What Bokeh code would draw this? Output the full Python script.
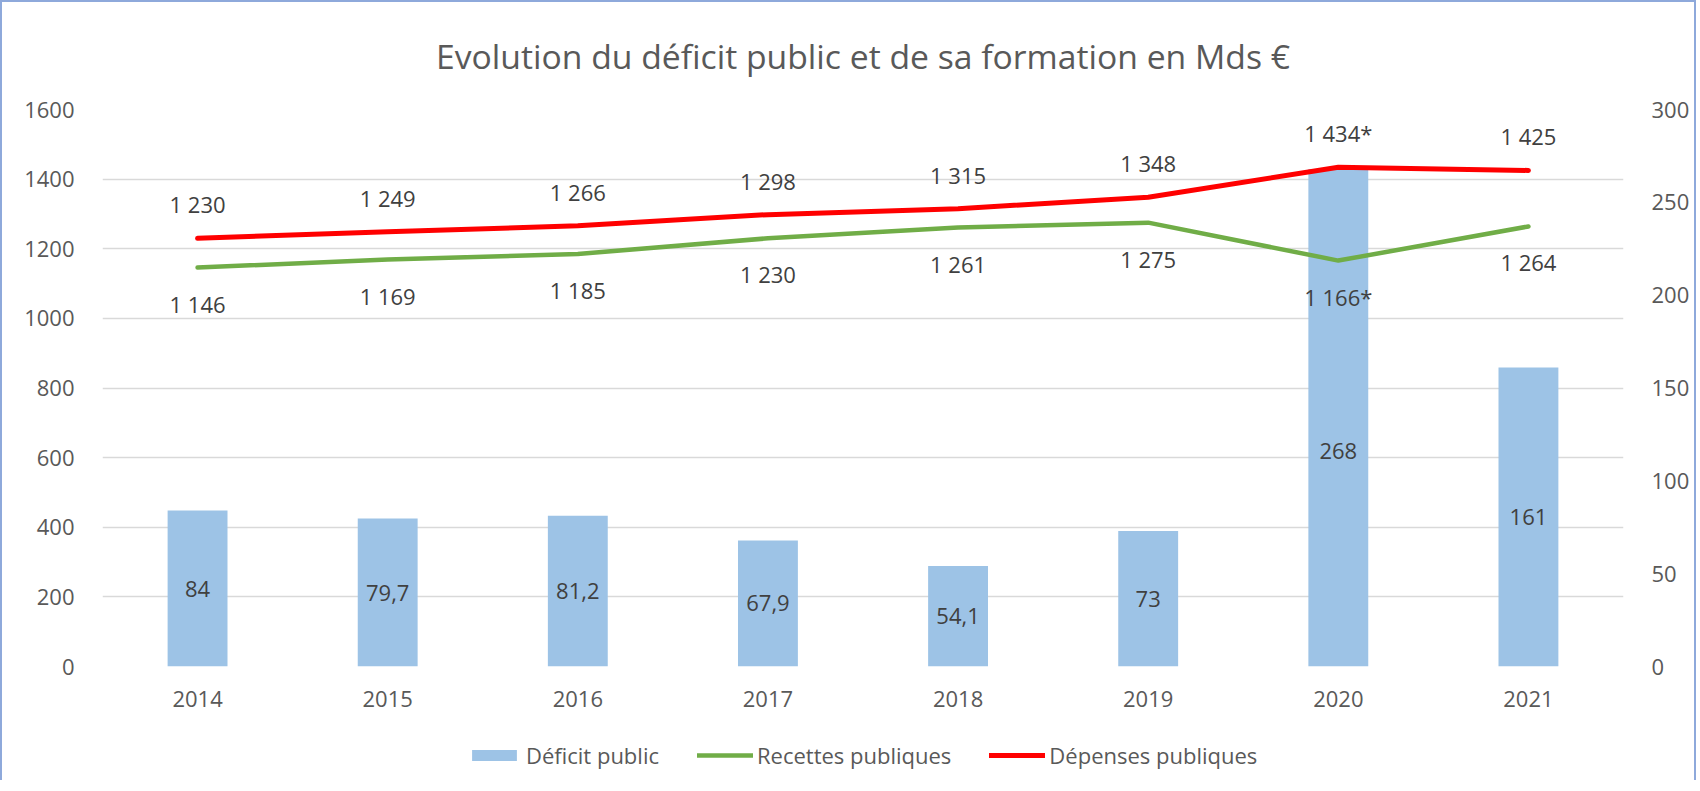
from bokeh.plotting import figure
from bokeh.layouts import column
from bokeh.models import (Range1d, LinearAxis, FixedTicker, Legend, LegendItem,
                          FactorRange, ColumnDataSource)
from bokeh.core.properties import value
from bokeh.embed import file_html
from bokeh.resources import INLINE

# ---- data ----
years = ["2014", "2015", "2016", "2017", "2018", "2019", "2020", "2021"]
deficit = [84, 79.7, 81.2, 67.9, 54.1, 73, 268, 161]
recettes = [1146, 1169, 1185, 1230, 1261, 1275, 1166, 1264]
depenses = [1230, 1249, 1266, 1298, 1315, 1348, 1434, 1425]
provisional = ["2020"]
left_ticks = [0, 200, 400, 600, 800, 1000, 1200, 1400, 1600]
right_ticks = [0, 50, 100, 150, 200, 250, 300]
series_names = ["Déficit public", "Recettes publiques", "Dépenses publiques"]

TITLE = "Evolution du déficit public et de sa formation en Mds €"
FONT = "Open Sans"
GREY = "#595959"
DARK = "#404040"
FS = "22px"
BAR_C, REC_C, DEP_C = "#9DC3E6", "#70AD47", "#FF0000"
NAN = float("nan")


def fmt_thousands(v, y):
    s = f"{int(round(v)):,}".replace(",", " ")
    return s + ("*" if y in provisional else "")


def fmt_dec(v):
    if float(v).is_integer():
        return str(int(v))
    return f"{v:.1f}".replace(".", ",")


dep_labels = [fmt_thousands(v, y) for v, y in zip(depenses, years)]
rec_labels = [fmt_thousands(v, y) for v, y in zip(recettes, years)]
def_labels = [fmt_dec(v) for v in deficit]

p = figure(
    x_range=FactorRange(*years),
    y_range=Range1d(0, 1600),
    frame_width=1521, frame_height=557,
    min_border_left=100, min_border_right=71,
    min_border_top=107, min_border_bottom=62,
    output_backend="svg", toolbar_location=None,
    title=TITLE,
)
p.extra_y_ranges = {"right": Range1d(0, 300)}

p.title.align = "center"
p.title.vertical_align = "top"
p.title.text_font = FONT
p.title.text_font_size = "33.7px"
p.title.text_font_style = "normal"
p.title.text_color = GREY
p.title.standoff = 58

p.outline_line_color = None
p.background_fill_color = "white"
p.border_fill_color = "white"

# grid
p.xgrid.grid_line_color = None
p.ygrid.grid_line_color = "#D9D9D9"
p.ygrid.grid_line_width = 1.5
p.ygrid.ticker = FixedTicker(ticks=left_ticks)

# axes
p.yaxis.ticker = FixedTicker(ticks=left_ticks)
for ax in [p.xaxis[0], p.yaxis[0]]:
    ax.axis_line_color = None
    ax.major_tick_line_color = None
    ax.minor_tick_line_color = None
    ax.major_label_text_font = FONT
    ax.major_label_text_font_size = FS
    ax.major_label_text_color = GREY
p.yaxis.major_label_standoff = 22
p.xaxis.major_label_standoff = 18

raxis = LinearAxis(y_range_name="right", ticker=FixedTicker(ticks=right_ticks))
raxis.axis_line_color = None
raxis.major_tick_line_color = None
raxis.minor_tick_line_color = None
raxis.major_label_text_font = FONT
raxis.major_label_text_font_size = FS
raxis.major_label_text_color = GREY
raxis.major_label_standoff = 22
p.add_layout(raxis, "right")

# bars (right axis)
bar_src = ColumnDataSource(dict(
    x=years, top=deficit, mid=[v / 2 for v in deficit], lab=def_labels,
    yoff=[33 if y == "2020" else 0 for y in years]))
p.vbar(x="x", top="top", width=0.315, source=bar_src, y_range_name="right",
       fill_color=BAR_C, line_color=None)

# lines (left axis)
p.line(years, recettes, line_color=REC_C, line_width=4.5,
       line_join="round", line_cap="round")
p.line(years, depenses, line_color=DEP_C, line_width=5,
       line_join="round", line_cap="round")

# data labels
p.text(x="x", y="mid", text="lab", source=bar_src, y_range_name="right",
       y_offset="yoff", text_align="center", text_baseline="middle",
       text_font=value(FONT), text_font_size=FS, text_color=DARK)
p.text(x=years, y=depenses, text=dep_labels, y_offset=-34,
       text_align="center", text_baseline="middle",
       text_font=value(FONT), text_font_size=FS, text_color=DARK)
p.text(x=years, y=recettes, text=rec_labels, y_offset=36,
       text_align="center", text_baseline="middle",
       text_font=value(FONT), text_font_size=FS, text_color=DARK)

# ---- legend strip (separate plot below the chart) ----
lg = figure(width=1692, height=52, x_range=Range1d(0, 1), y_range=Range1d(0, 1),
            x_axis_type=None, y_axis_type=None,
            min_border_left=0, min_border_right=0, min_border_top=0,
            min_border_bottom=0, output_backend="svg", toolbar_location=None)
lg.outline_line_color = None
lg.background_fill_color = "white"
lg.border_fill_color = "white"
# legend-only renderers (no visible data)
r_bar = lg.vbar(x=[NAN], top=[NAN], width=0.3, fill_color=BAR_C, line_color=None)
r_rec = lg.line(x=[NAN], y=[NAN], line_color=REC_C, line_width=4.5, line_cap="round")
r_dep = lg.line(x=[NAN], y=[NAN], line_color=DEP_C, line_width=5, line_cap="round")

legend = Legend(items=[
    LegendItem(label=series_names[0], renderers=[r_bar]),
    LegendItem(label=series_names[1], renderers=[r_rec]),
    LegendItem(label=series_names[2], renderers=[r_dep]),
], orientation="horizontal", location=(364, 10))
legend.border_line_color = None
legend.background_fill_alpha = 0
legend.label_text_font = FONT
legend.label_text_font_size = FS
legend.label_text_color = GREY
legend.glyph_width = 56
legend.glyph_height = 14
legend.label_standoff = 4
legend.spacing = 38
legend.padding = 0
legend.margin = 0
lg.add_layout(legend, "center")

layout = column(p, lg, spacing=0)
layout.styles = {"border-top": "2px solid #8EA9DB", "border-left": "2px solid #8EA9DB",
                 "border-right": "2px solid #8EA9DB"}

open("out.html", "w").write(file_html(layout, INLINE))
